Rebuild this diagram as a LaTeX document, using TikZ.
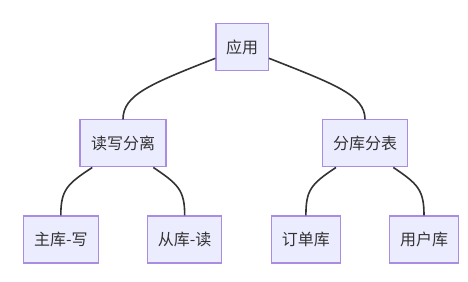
\documentclass[tikz,border=0pt]{standalone}
\usepackage{fontspec}
\newfontfamily\cjk{Noto Sans CJK SC}
\definecolor{nodefill}{HTML}{ECECFF}
\definecolor{nodeborder}{HTML}{A98DE3}
\definecolor{edgecol}{HTML}{333333}
\definecolor{txt}{HTML}{333333}
\begin{document}
\begin{tikzpicture}[x=1pt,y=-1pt,
  box/.style={draw=nodeborder,fill=nodefill,line width=1.1pt,minimum height=47pt,
    inner sep=0pt,text=txt,font=\cjk\fontsize{16}{19}\selectfont},
  link/.style={draw=edgecol,line width=1.6pt}]
\useasboundingbox (0,0) rectangle (468,281);
\node[box,minimum width=52.5pt] (app) at (242.2,47.3) {应用};
\node[box,minimum width=86pt] (rw) at (123,143.4) {读写分离};
\node[box,minimum width=84.5pt] (sh) at (365,143.4) {分库分表};
\node[box,minimum width=75pt] (m) at (60.8,239.5) {主库-写};
\node[box,minimum width=74pt] (s) at (184.7,239.5) {从库-读};
\node[box,minimum width=68.3pt] (o) at (305.9,239.5) {订单库};
\node[box,minimum width=68.6pt] (u) at (424,239.5) {用户库};
\coordinate (a1) at (app.west |- 0,58.3);
\coordinate (a2) at (app.east |- 0,58.3);
\coordinate (r1) at (92.3,0 |- rw.south);
\coordinate (r2) at (153.3,0 |- rw.south);
\coordinate (s1) at (336,0 |- sh.south);
\coordinate (s2) at (393.3,0 |- sh.south);
\draw[link] (a1) .. controls (150,84) and (rw.north |- 0,95) .. (rw.north);
\draw[link] (a2) .. controls (334,84) and (sh.north |- 0,95) .. (sh.north);
\draw[link] (r1) .. controls (67,184) and (m.north |- 0,190) .. (m.north);
\draw[link] (r2) .. controls (178,184) and (s.north |- 0,190) .. (s.north);
\draw[link] (s1) .. controls (311,184) and (o.north |- 0,190) .. (o.north);
\draw[link] (s2) .. controls (418,184) and (u.north |- 0,190) .. (u.north);
\end{tikzpicture}
\end{document}
